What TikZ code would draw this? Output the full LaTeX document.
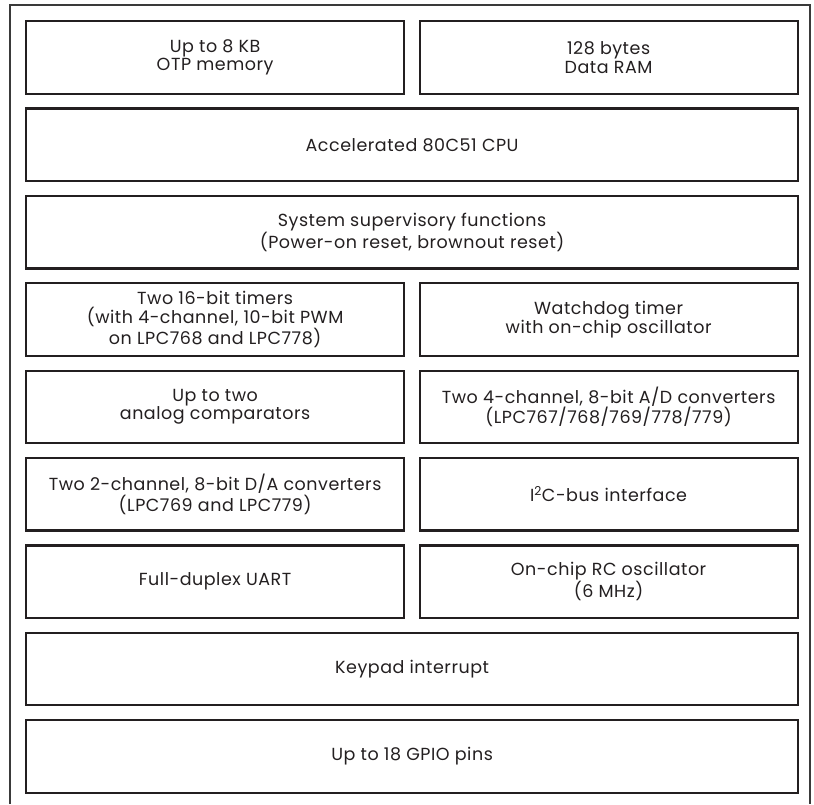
\documentclass[tikz,border=0pt]{standalone}
\usepackage{fontspec}
\setmainfont{Poppins}[LetterSpace=3]
\definecolor{ink}{HTML}{231F20}
\definecolor{frame}{HTML}{3A3A3A}
\begin{document}
\begin{tikzpicture}[x=1pt,y=-1pt,
  blk/.style={draw=ink, line width=2.2pt, align=center, font=\fontsize{17.5}{18.8}\selectfont,
    text=ink, inner sep=0pt, anchor=north west},
  full/.style={blk, minimum width=772pt, minimum height=72.5pt},
  half/.style={blk, minimum width=378pt, minimum height=72.5pt}]
\useasboundingbox (0,0) rectangle (814,804);
% outer frame, open at the bottom
\draw[frame, line width=1.6pt] (10,804) -- (10,5) -- (810,5) -- (810,804);
% rows
\node[half] (otp)  at (25,20)     {Up to 8 KB\\OTP memory};
\node[half] (ram)  at (418.5,20)  {128 bytes\\Data RAM};
\node[full] (cpu)  at (25,107.4)  {Accelerated 80C51 CPU};
\node[full] (sup)  at (25,194.8)  {System supervisory functions\\(Power-on reset, brownout reset)};
\node[half] (tmr)  at (25,282.1)  {Two 16-bit timers\\(with 4-channel, 10-bit PWM\\on LPC768 and LPC778)};
\node[half] (wdt)  at (418.5,282.1) {Watchdog timer\\with on-chip oscillator};
\node[half] (cmp)  at (25,369.5)  {Up to two\\analog comparators};
\node[half] (adc)  at (418.5,369.5) {Two 4-channel, 8-bit A/D converters\\(LPC767/768/769/778/779)};
\node[half] (dac)  at (25,456.9)  {Two 2-channel, 8-bit D/A converters\\(LPC769 and LPC779)};
\node[half] (iic)  at (418.5,456.9) {I\textsuperscript{2}C-bus interface};
\node[half] (uart) at (25,544.3)  {Full-duplex UART};
\node[half] (osc)  at (418.5,544.3) {On-chip RC oscillator\\(6 MHz)};
\node[full] (kbi)  at (25,631.6)  {Keypad interrupt};
\node[full] (gpio) at (25,719)    {Up to 18 GPIO pins};
\end{tikzpicture}
\end{document}
